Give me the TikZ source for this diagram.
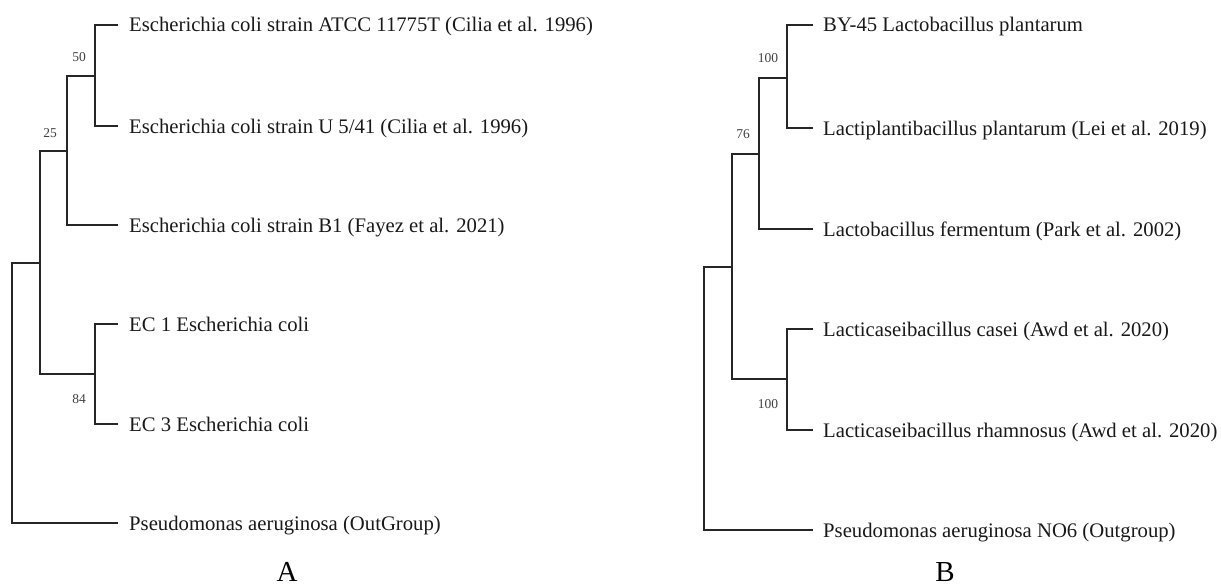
\documentclass[tikz,border=0pt]{standalone}
\usepackage{fontspec}
\setmainfont{Liberation Serif}
\tikzset{
  branch/.style={line width=1.1pt, black!85},
  leaf/.style={anchor=base west, inner sep=0pt, font=\fontsize{20.7}{20.7}\selectfont, yshift=-7pt, black!90},
  boot/.style={anchor=center, inner sep=0pt, font=\fontsize{13.5}{13.5}\selectfont, black!75},
  panel/.style={anchor=center, inner sep=0pt, font=\fontsize{29}{29}\selectfont}
}
\begin{document}
\begin{tikzpicture}[x=1pt,y=-1pt]
\useasboundingbox (0,0) rectangle (1221,586);
% ---------- Tree A ----------
\coordinate (rA) at (12,393);
\coordinate (nA) at (40,263);
\coordinate (n25) at (67,151);
\coordinate (n50) at (95,76);
\coordinate (n84) at (95,374);
\coordinate (a1) at (118,25);
\coordinate (a2) at (118,126);
\coordinate (a3) at (118,225);
\coordinate (a4) at (118,324);
\coordinate (a5) at (118,424);
\coordinate (a6) at (118,523);
\draw[branch] (rA) |- (nA);
\draw[branch] (rA) |- (a6);
\draw[branch] (nA) |- (n25);
\draw[branch] (nA) |- (n84);
\draw[branch] (n25) |- (n50);
\draw[branch] (n25) |- (a3);
\draw[branch] (n50) |- (a1);
\draw[branch] (n50) |- (a2);
\draw[branch] (n84) |- (a4);
\draw[branch] (n84) |- (a5);
\node[leaf] (A1) at ([xshift=11pt]a1) {Escherichia coli strain ATCC 11775T (Cilia et al. 1996)};
\node[leaf] (A2) at ([xshift=11pt]a2) {Escherichia coli strain U 5/41 (Cilia et al. 1996)};
\node[leaf] (A3) at ([xshift=11pt]a3) {Escherichia coli strain B1 (Fayez et al. 2021)};
\node[leaf] (A4) at ([xshift=11pt]a4) {EC 1 Escherichia coli};
\node[leaf] (A5) at ([xshift=11pt]a5) {EC 3 Escherichia coli};
\node[leaf] (A6) at ([xshift=11pt]a6) {Pseudomonas aeruginosa (OutGroup)};
\node[boot] (bA50) at (79,57) {50};
\node[boot] (bA25) at (50,133) {25};
\node[boot] (bA84) at (79,399) {84};
\node[panel] (labA) at (287,572) {A};
% ---------- Tree B ----------
\coordinate (rB) at (704,398);
\coordinate (nB) at (732,267);
\coordinate (n76) at (759,154);
\coordinate (n100a) at (787,78);
\coordinate (n100b) at (787,379);
\coordinate (b1) at (813,25);
\coordinate (b2) at (813,128);
\coordinate (b3) at (813,229);
\coordinate (b4) at (813,329);
\coordinate (b5) at (813,430);
\coordinate (b6) at (813,530);
\draw[branch] (rB) |- (nB);
\draw[branch] (rB) |- (b6);
\draw[branch] (nB) |- (n76);
\draw[branch] (nB) |- (n100b);
\draw[branch] (n76) |- (n100a);
\draw[branch] (n76) |- (b3);
\draw[branch] (n100a) |- (b1);
\draw[branch] (n100a) |- (b2);
\draw[branch] (n100b) |- (b4);
\draw[branch] (n100b) |- (b5);
\node[leaf] (B1) at ([xshift=10pt]b1) {BY-45 Lactobacillus plantarum};
\node[leaf] (B2) at ([xshift=10pt]b2) {Lactiplantibacillus plantarum (Lei et al. 2019)};
\node[leaf] (B3) at ([xshift=10pt]b3) {Lactobacillus fermentum (Park et al. 2002)};
\node[leaf] (B4) at ([xshift=10pt]b4) {Lacticaseibacillus casei (Awd et al. 2020)};
\node[leaf] (B5) at ([xshift=10pt]b5) {Lacticaseibacillus rhamnosus (Awd et al. 2020)};
\node[leaf] (B6) at ([xshift=10pt]b6) {Pseudomonas aeruginosa NO6 (Outgroup)};
\node[boot] (bB100a) at (768,58) {100};
\node[boot] (bB76) at (743,134) {76};
\node[boot] (bB100b) at (768,404) {100};
\node[panel] (labB) at (945,572) {B};
\end{tikzpicture}
\end{document}
